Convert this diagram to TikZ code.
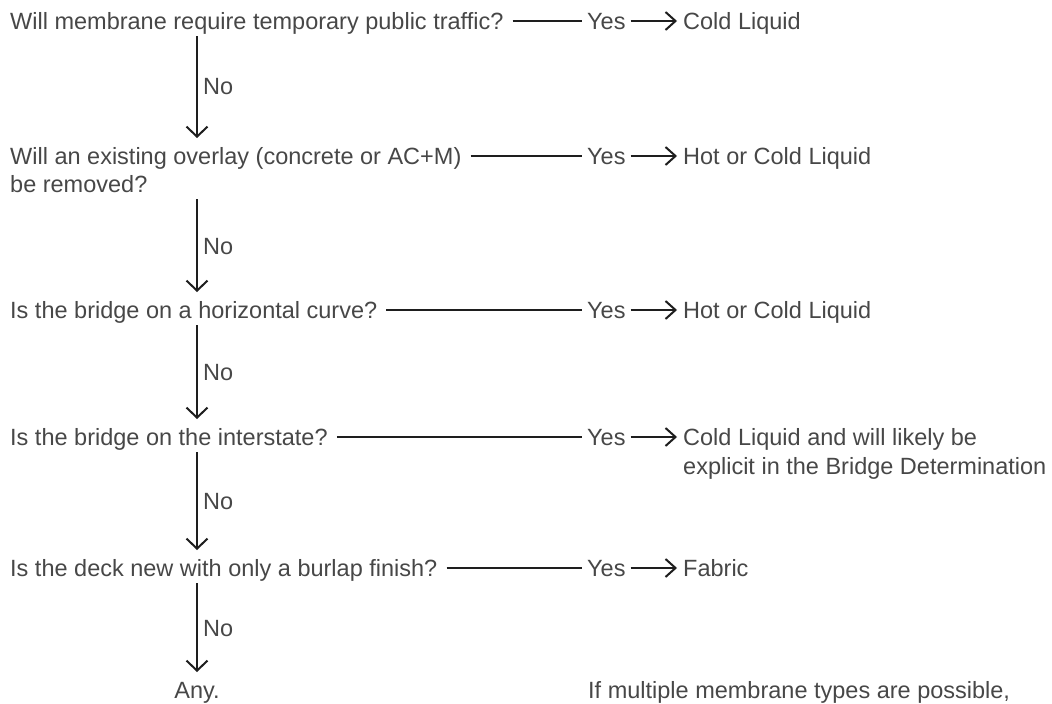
\documentclass[tikz,border=0pt]{standalone}
\usepackage{fontspec}
\setmainfont{Liberation Sans}
\usetikzlibrary{arrows.meta}
\definecolor{txt}{HTML}{474747}
\definecolor{ln}{HTML}{1E1E1E}
\begin{document}
\begin{tikzpicture}[x=1pt,y=-1pt,
  lbl/.style={anchor=base west, inner sep=0pt, text height=17pt, text depth=1pt, text=txt, font=\fontsize{23.5}{28}\selectfont},
  hline/.style={draw=ln, line width=2pt, shorten <=9pt, shorten >=5pt},
  harrow/.style={draw=ln, line width=2pt, -{Straight Barb[length=10pt,width=18pt]}, shorten <=5pt, shorten >=6pt},
  varrow/.style={draw=ln, line width=2pt, -{Straight Barb[length=10pt,width=21pt]}, shorten <=7pt, shorten >=26pt},
]
\path[use as bounding box] (0,0) rectangle (1052,704);
\coordinate (ax) at (197,0);
% questions
\node[lbl] (q1) at (10,29) {Will membrane require temporary public traffic?};
\node[lbl] (q2) at (10,164) {Will an existing overlay (concrete or AC+M)};
\node[lbl] (q2b) at (10,192) {be removed?};
\node[lbl] (q3) at (10,318) {Is the bridge on a horizontal curve?};
\node[lbl] (q4) at (10,445) {Is the bridge on the interstate?};
\node[lbl] (q5) at (10,576) {Is the deck new with only a burlap finish?};
\node[lbl, anchor=base] (any) at (197,698) {Any.};
\node[lbl] (note) at (588,698) {If multiple membrane types are possible,};
% yes labels
\node[lbl] (y1) at (587,29) {Yes};
\node[lbl] (y2) at (587,164) {Yes};
\node[lbl] (y3) at (587,318) {Yes};
\node[lbl] (y4) at (587,445) {Yes};
\node[lbl] (y5) at (587,576) {Yes};
% answers
\node[lbl] (a1) at (683,29) {Cold Liquid};
\node[lbl] (a2) at (683,164) {Hot or Cold Liquid};
\node[lbl] (a3) at (683,318) {Hot or Cold Liquid};
\node[lbl] (a4) at (683,445) {Cold Liquid and will likely be};
\node[lbl] (a4b) at (683,474) {explicit in the Bridge Determination};
\node[lbl] (a5) at (683,576) {Fabric};
% no labels
\node[lbl] (n1) at (203,94) {No};
\node[lbl] (n2) at (203,254) {No};
\node[lbl] (n3) at (203,380) {No};
\node[lbl] (n4) at (203,509) {No};
\node[lbl] (n5) at (203,636) {No};
% horizontal connectors
\foreach \i in {1,...,5} {
  \draw[hline] (q\i.east) -- (y\i.west);
  \draw[harrow] (y\i.east) -- (a\i.west);
}
% vertical connectors
\draw[varrow] (q1.base -| ax) -- (q2.base -| ax);
\draw[varrow] (q2b.base -| ax) -- (q3.base -| ax);
\draw[varrow] (q3.base -| ax) -- (q4.base -| ax);
\draw[varrow] (q4.base -| ax) -- (q5.base -| ax);
\draw[varrow] (q5.base -| ax) -- (any.base -| ax);
\end{tikzpicture}
\end{document}
